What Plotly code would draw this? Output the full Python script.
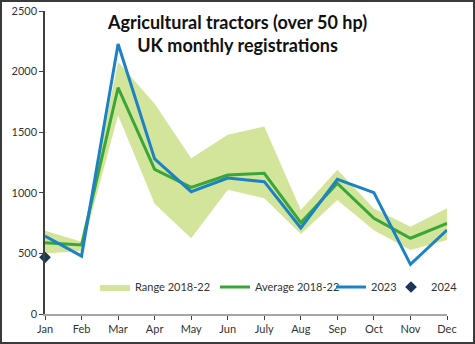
import plotly.graph_objects as go

months = ["Jan", "Feb", "Mar", "Apr", "May", "Jun", "July", "Aug", "Sep", "Oct", "Nov", "Dec"]
range_low = [500, 520, 1640, 910, 625, 1025, 955, 660, 940, 690, 528, 610]
range_high = [687, 597, 2080, 1735, 1285, 1478, 1546, 858, 1190, 870, 720, 872]
average = [588, 570, 1867, 1194, 1045, 1147, 1161, 753, 1078, 790, 625, 748]
y2023 = [644, 478, 2228, 1279, 1009, 1122, 1092, 710, 1111, 1001, 410, 693]
months_2024 = ["Jan"]
y2024 = [468]

FONT = "Lato"
fig = go.Figure()
fig.add_trace(go.Scatter(x=months, y=range_low, mode="lines", line=dict(width=0, color="#d3e59a"),
                         showlegend=False, hoverinfo="skip"))
fig.add_trace(go.Scatter(x=months, y=range_high, mode="lines", line=dict(width=0, color="#d3e59a"),
                         fill="tonexty", fillcolor="#d3e59a", name="Range 2018-22", legend="legend"))
fig.add_trace(go.Scatter(x=months, y=average, mode="lines", line=dict(width=3, color="#3aa637"),
                         name="Average 2018-22", legend="legend2"))
fig.add_trace(go.Scatter(x=months, y=y2023, mode="lines", line=dict(width=3, color="#1c82c3"),
                         name="2023", legend="legend3"))
fig.add_trace(go.Scatter(x=months_2024, y=y2024, mode="markers",
                         marker=dict(symbol="diamond", size=9, color="#1b3656"), name="2024",
                         cliponaxis=False, legend="legend4"))


def leg(px):
    return dict(orientation="h", x=(px - 45) / 402, xanchor="left", y=(314 - 287) / 303, yanchor="middle",
                bgcolor="rgba(0,0,0,0)", font=dict(family=FONT, size=11, color="#333333"), itemwidth=30)


fig.update_layout(
    width=475, height=344,
    margin=dict(l=45, r=28, t=11, b=30, autoexpand=False),
    paper_bgcolor="white", plot_bgcolor="white",
    font=dict(family=FONT, size=12, color="#333333"),
    showlegend=True,
    legend=leg(95), legend2=leg(215), legend3=leg(331), legend4=leg(391),
    xaxis=dict(range=[0, 11], showgrid=False, showline=True, linecolor="#a6a6a6", linewidth=2,
               ticks="outside", ticklen=4, tickcolor="#404040", tickfont=dict(size=11, color="#333333"),
               fixedrange=True, automargin=False),
    yaxis=dict(range=[0, 2500], tickvals=[0, 500, 1000, 1500, 2000, 2500], showgrid=False,
               showline=True, linecolor="#404040", linewidth=1.5, ticks="outside", ticklen=4,
               tickcolor="#404040", tickfont=dict(size=11, color="#333333"), zeroline=False,
               automargin=False),
    annotations=[dict(text="<b>Agricultural tractors (over 50 hp)<br>UK monthly registrations</b>",
                      xref="paper", yref="paper", x=0.478, y=0.927, xanchor="center", yanchor="middle",
                      showarrow=False, font=dict(family=FONT, size=18, color="#111111"))],
    shapes=[dict(type="rect", xref="paper", yref="paper", x0=-44/402, x1=429/402, y0=-29/303, y1=313/303,
                 line=dict(color="#3a3a3a", width=2), fillcolor="rgba(0,0,0,0)", layer="above")],
)

fig.write_html("out.html")
